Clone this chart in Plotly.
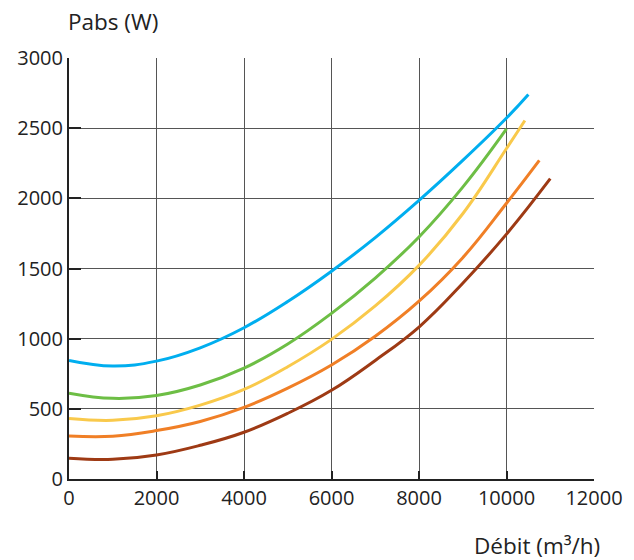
import plotly.graph_objects as go

blue_x = [0, 1000, 2000, 3000, 4000, 5000, 6000, 7000, 8000, 9000, 10000, 10500]
blue_y = [845, 805, 840, 935, 1078, 1265, 1481, 1720, 1985, 2270, 2572, 2740]

green_x = [0, 1000, 2000, 3000, 4000, 5000, 6000, 7000, 8000, 9000, 10000]
green_y = [612, 575, 595, 670, 790, 962, 1180, 1432, 1725, 2080, 2495]

yellow_x = [0, 1000, 2000, 3000, 4000, 5000, 6000, 7000, 8000, 9000, 10000, 10420]
yellow_y = [431, 418, 450, 526, 638, 800, 995, 1233, 1522, 1890, 2355, 2555]

orange_x = [0, 1000, 2000, 3000, 4000, 5000, 6000, 7000, 8000, 9000, 10000, 10750]
orange_y = [307, 305, 345, 410, 510, 647, 812, 1017, 1267, 1577, 1965, 2270]

brown_x = [0, 1000, 2000, 3000, 4000, 5000, 6000, 7000, 8000, 9000, 10000, 11000]
brown_y = [148, 140, 171, 240, 333, 468, 632, 845, 1083, 1395, 1745, 2140]

series = [
    (blue_x, blue_y, "#00AEEF"),
    (green_x, green_y, "#6DBE45"),
    (yellow_x, yellow_y, "#F9C94B"),
    (orange_x, orange_y, "#F07F26"),
    (brown_x, brown_y, "#9E3A14"),
]

x_ticks = [0, 2000, 4000, 6000, 8000, 10000, 12000]
x_tick_text = ["0", "2000", "4000", "6000", "8000", "10000", "12000"]
y_ticks = [0, 500, 1000, 1500, 2000, 2500, 3000]
y_tick_text = ["0", "500", "1000", "1500", "2000", "2500", "3000"]

fig = go.Figure()
for xs, ys, col in series:
    fig.add_trace(go.Scatter(x=xs, y=ys, mode="lines",
                             line=dict(color=col, width=3, shape="spline", smoothing=1.2),
                             showlegend=False, hoverinfo="skip"))

font_family = "Open Sans, Noto Sans, sans-serif"
fs = 20
ts = 22.5
fig.update_layout(
    width=634, height=560,
    margin=dict(l=69, r=40, t=58, b=81),
    paper_bgcolor="white", plot_bgcolor="white",
    font=dict(family=font_family, size=fs, color="#222"),
    xaxis=dict(range=[0, 12000], tickvals=x_ticks, ticktext=x_tick_text, showgrid=True,
               gridcolor="#555", gridwidth=1, zeroline=False, showline=True,
               linecolor="#222", linewidth=2, ticks="inside", ticklen=8, tickwidth=2,
               tickcolor="#222", tickfont=dict(size=fs, color="#222")),
    yaxis=dict(range=[0, 3000], tickvals=y_ticks, ticktext=y_tick_text, showgrid=True,
               gridcolor="#555", gridwidth=1, zeroline=False, showline=True,
               linecolor="#222", linewidth=2, ticks="inside", ticklen=12, tickwidth=2,
               tickcolor="#222", tickfont=dict(size=fs, color="#222")),
    annotations=[
        dict(text="Pabs (W)", xref="paper", yref="paper", x=0, y=1, xanchor="left",
             yanchor="bottom", xshift=-3, yshift=19, showarrow=False,
             font=dict(size=ts, color="#222")),
        dict(text="Débit (m³/h)", xref="paper", yref="paper", x=1, y=0, xanchor="right",
             yanchor="top", xshift=8, yshift=-49, showarrow=False,
             font=dict(size=ts, color="#222")),
    ],
)

fig.write_html("out.html")
